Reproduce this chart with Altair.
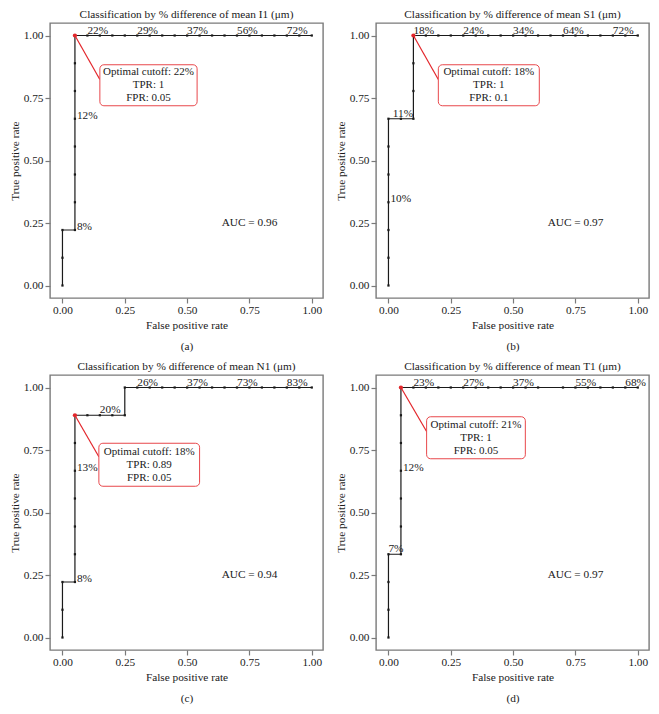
import altair as alt
import pandas as pd

# ---------------- data ----------------
a_fpr = [0.00, 0.00, 0.00, 0.05, 0.05, 0.05, 0.05, 0.05, 0.05, 0.05, 0.05,
         0.10, 0.15, 0.20, 0.25, 0.30, 0.35, 0.40, 0.45, 0.50, 0.55, 0.60,
         0.65, 0.70, 0.75, 0.80, 0.85, 0.90, 0.95, 1.00]
a_tpr = [0.000, 0.111, 0.222, 0.222, 0.333, 0.444, 0.556, 0.667, 0.778, 0.889, 1.000,
         1, 1, 1, 1, 1, 1, 1, 1, 1, 1, 1, 1, 1, 1, 1, 1, 1, 1, 1]

b_fpr = [0.00, 0.00, 0.00, 0.00, 0.00, 0.00, 0.00, 0.05, 0.10, 0.10, 0.10, 0.10,
         0.15, 0.20, 0.25, 0.30, 0.35, 0.40, 0.45, 0.50, 0.55, 0.60, 0.65,
         0.70, 0.75, 0.80, 0.85, 0.90, 0.95, 1.00]
b_tpr = [0.000, 0.111, 0.222, 0.333, 0.444, 0.556, 0.667, 0.667, 0.667, 0.778, 0.889, 1.000,
         1, 1, 1, 1, 1, 1, 1, 1, 1, 1, 1, 1, 1, 1, 1, 1, 1, 1]

c_fpr = [0.00, 0.00, 0.00, 0.05, 0.05, 0.05, 0.05, 0.05, 0.05, 0.05,
         0.10, 0.15, 0.20, 0.25, 0.25,
         0.30, 0.35, 0.40, 0.45, 0.50, 0.55, 0.60, 0.65, 0.70, 0.75, 0.80,
         0.85, 0.90, 0.95, 1.00]
c_tpr = [0.000, 0.111, 0.222, 0.222, 0.333, 0.444, 0.556, 0.667, 0.778, 0.889,
         0.889, 0.889, 0.889, 0.889, 1.000,
         1, 1, 1, 1, 1, 1, 1, 1, 1, 1, 1, 1, 1, 1, 1]

d_fpr = [0.00, 0.00, 0.00, 0.00, 0.05, 0.05, 0.05, 0.05, 0.05, 0.05, 0.05,
         0.10, 0.15, 0.20, 0.25, 0.30, 0.35, 0.40, 0.45, 0.50, 0.55, 0.60,
         0.70, 0.75, 0.80, 0.85, 0.90, 0.95, 1.00]
d_tpr = [0.000, 0.111, 0.222, 0.333, 0.333, 0.444, 0.556, 0.667, 0.778, 0.889, 1.000,
         1, 1, 1, 1, 1, 1, 1, 1, 1, 1, 1, 1, 1, 1, 1, 1, 1, 1]

# cutoff labels
a_lab = ["8%", "12%", "22%", "29%", "37%", "56%", "72%"]
a_lx = [0.05, 0.05, 0.10, 0.30, 0.50, 0.70, 0.90]
a_ly = [0.222, 0.667, 1, 1, 1, 1, 1]
a_lp = ["right", "right", "above", "above", "above", "above", "above"]

b_lab = ["10%", "11%", "18%", "24%", "34%", "64%", "72%"]
b_lx = [0.00, 0.05, 0.10, 0.30, 0.50, 0.70, 0.90]
b_ly = [0.333, 0.667, 1, 1, 1, 1, 1]
b_lp = ["right", "abovec", "above", "above", "above", "above", "above"]

c_lab = ["8%", "13%", "20%", "26%", "37%", "73%", "83%"]
c_lx = [0.05, 0.05, 0.15, 0.30, 0.50, 0.70, 0.90]
c_ly = [0.222, 0.667, 0.889, 1, 1, 1, 1]
c_lp = ["right", "right", "above", "above", "above", "above", "above"]

d_lab = ["7%", "12%", "23%", "27%", "37%", "55%", "68%"]
d_lx = [0.00, 0.05, 0.10, 0.30, 0.50, 0.75, 0.95]
d_ly = [0.333, 0.667, 1, 1, 1, 1, 1]
d_lp = ["above", "right", "above", "above", "above", "above", "above"]

# optimal points and callouts
opt_x = [0.05, 0.10, 0.05, 0.05]
opt_y = [1.0, 1.0, 0.889, 1.0]
opt_l1 = ["Optimal cutoff: 22%", "Optimal cutoff: 18%", "Optimal cutoff: 18%", "Optimal cutoff: 21%"]
opt_l2 = ["TPR: 1", "TPR: 1", "TPR: 0.89", "TPR: 1"]
opt_l3 = ["FPR: 0.05", "FPR: 0.1", "FPR: 0.05", "FPR: 0.05"]
box_x1 = [0.150, 0.200, 0.146, 0.153]
box_x2 = [0.540, 0.605, 0.550, 0.549]
box_y1 = [0.719, 0.719, 0.605, 0.715]
box_y2 = [0.883, 0.883, 0.777, 0.883]
lead_y = [0.824, 0.824, 0.723, 0.824]

auc = ["AUC = 0.96", "AUC = 0.97", "AUC = 0.94", "AUC = 0.97"]
titles = ["Classification by % difference of mean I1 (μm)",
          "Classification by % difference of mean S1 (μm)",
          "Classification by % difference of mean N1 (μm)",
          "Classification by % difference of mean T1 (μm)"]
tags = ["(a)", "(b)", "(c)", "(d)"]

FONT = "Liberation Serif"
FS = 11.3
RED = "#e3262b"
INK = "#1a1a1a"
W, H = 273, 275

xs = alt.Scale(domain=[-0.05, 1.045], nice=False, zero=False)
ys = alt.Scale(domain=[-0.05, 1.05], nice=False, zero=False)
ticks = [0, 0.25, 0.5, 0.75, 1.0]


def panel(i, fpr, tpr, lab, lx, ly, lp):
    curve = pd.DataFrame({"fpr": fpr, "tpr": tpr, "k": list(range(len(fpr)))})
    labs = pd.DataFrame({"t": lab, "x": lx, "y": ly, "p": lp})
    ann = pd.DataFrame({
        "ox": [opt_x[i]], "oy": [opt_y[i]],
        "bx1": [box_x1[i]], "bx2": [box_x2[i]], "by1": [box_y1[i]], "by2": [box_y2[i]],
        "ly": [lead_y[i]],
        "cx": [(box_x1[i] + box_x2[i]) / 2], "cy": [(box_y1[i] + box_y2[i]) / 2],
        "l1": [opt_l1[i]], "l2": [opt_l2[i]], "l3": [opt_l3[i]],
        "auc": [auc[i]], "ax": [0.75], "ay": [0.25],
    })

    X = alt.X("fpr:Q", scale=xs, axis=alt.Axis(values=ticks, format=".2f",
                                                title=["False positive rate", tags[i]],
                                                titleLineHeight=21))
    Y = alt.Y("tpr:Q", scale=ys, axis=alt.Axis(values=ticks, format=".2f",
                                                title="True positive rate"))

    base = alt.Chart(curve)
    line = base.mark_line(color=INK, strokeWidth=1.2).encode(x=X, y=Y, order="k:Q")
    pts = base.mark_square(size=5, color=INK, opacity=1).encode(x="fpr:Q", y="tpr:Q")

    lb = alt.Chart(labs)
    t_right = lb.transform_filter(alt.datum.p == "right").mark_text(
        align="left", baseline="middle", dx=2, dy=-3, font=FONT, fontSize=FS, color=INK
    ).encode(x="x:Q", y="y:Q", text="t:N")
    t_above = lb.transform_filter(alt.datum.p == "above").mark_text(
        align="left", baseline="alphabetic", dx=0, dy=-2, font=FONT, fontSize=FS, color=INK
    ).encode(x="x:Q", y="y:Q", text="t:N")
    t_abovec = lb.transform_filter(alt.datum.p == "abovec").mark_text(
        align="center", baseline="alphabetic", dx=2, dy=-2, font=FONT, fontSize=FS, color=INK
    ).encode(x="x:Q", y="y:Q", text="t:N")

    an = alt.Chart(ann)
    lead = an.mark_rule(color=RED, strokeWidth=1.2).encode(
        x="ox:Q", y="oy:Q", x2="bx1:Q", y2="ly:Q")
    opt = an.mark_circle(size=18, color=RED, opacity=1).encode(x="ox:Q", y="oy:Q")
    box = an.mark_rect(fill="white", stroke="#e8474b", strokeWidth=1, cornerRadius=4).encode(
        x="bx1:Q", x2="bx2:Q", y="by1:Q", y2="by2:Q")
    tl = []
    for fld, off in (("l1", -13), ("l2", 0), ("l3", 13)):
        tl.append(an.mark_text(font=FONT, fontSize=11, align="center", baseline="middle",
                               dy=off, color=INK).encode(x="cx:Q", y="cy:Q", text=f"{fld}:N"))
    atxt = an.mark_text(font=FONT, fontSize=FS, align="center", baseline="middle",
                        color=INK).encode(x="ax:Q", y="ay:Q", text="auc:N")

    return alt.layer(line, pts, t_right, t_above, t_abovec, lead, box, *tl, opt, atxt).properties(
        width=W, height=H,
        title=alt.TitleParams(titles[i], font=FONT, fontSize=FS, fontWeight="normal",
                              color=INK, anchor="middle", offset=3),
    )


pa = panel(0, a_fpr, a_tpr, a_lab, a_lx, a_ly, a_lp)
pb = panel(1, b_fpr, b_tpr, b_lab, b_lx, b_ly, b_lp)
pc = panel(2, c_fpr, c_tpr, c_lab, c_lx, c_ly, c_lp)
pd_ = panel(3, d_fpr, d_tpr, d_lab, d_lx, d_ly, d_lp)

chart = alt.vconcat(
    alt.hconcat(pa, pb, spacing=10),
    alt.hconcat(pc, pd_, spacing=10),
    spacing=7,
).properties(padding=0).configure_view(
    stroke="#7a7a7a", strokeWidth=1.4
).configure_axis(
    domain=False, grid=False, tickColor="#7a7a7a", tickSize=5, tickWidth=1.2,
    labelFont=FONT, labelFontSize=FS, labelColor=INK, labelPadding=1,
    titleFont=FONT, titleFontSize=FS, titleFontWeight="normal", titleColor=INK,
    titlePadding=4,
).configure_axisY(labelPadding=2, titlePadding=3)

chart.save("out.html", embed_options={"renderer": "svg", "actions": False})
